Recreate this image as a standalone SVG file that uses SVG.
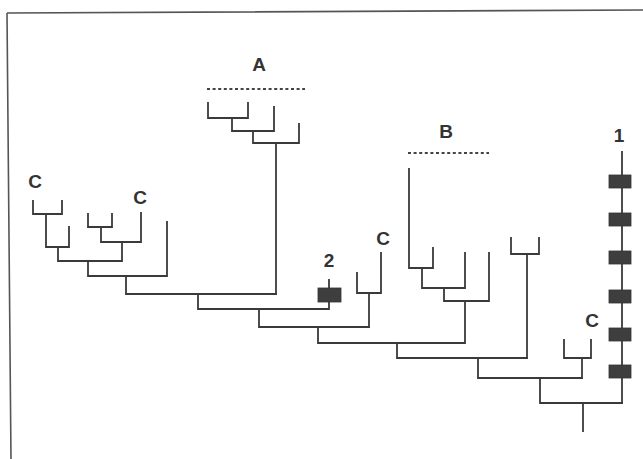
<svg xmlns="http://www.w3.org/2000/svg" width="643" height="459" viewBox="0 0 643 459">
<style>
.ln{fill:none;stroke:#3a3a3a;stroke-width:1.8;stroke-linecap:square}
.dot{fill:none;stroke:#444;stroke-width:2;stroke-dasharray:3 2.6}
.lbl{font-family:"Liberation Sans",Arial,sans-serif;font-size:19px;font-weight:bold;fill:#333;text-anchor:middle}
.blk{fill:#3e3e3e;stroke:#333;stroke-width:0.8}
.frame{fill:none;stroke:#555;stroke-width:1.6}
</style>
<rect width="643" height="459" fill="#fff"/>
<g id="frame">
<path class="frame" d="M7,13 L643,10 M7,13 L11,459"/>
</g>
<g id="connectors">
<!-- left C clade -->
<path class="ln" d="M33,201 V214 H62 V201"/>
<path class="ln" d="M46,214 V247 H69 V227"/>
<path class="ln" d="M88,214 V227 H112 V214"/>
<path class="ln" d="M101,227 V242 H141 V213"/>
<path class="ln" d="M58,247 V261 H122 V242"/>
<path class="ln" d="M88,261 V276 H167 V222"/>
<path class="ln" d="M126,276 V294 H276"/>
<!-- A clade -->
<path class="ln" d="M208,103 V118 H248 V103"/>
<path class="ln" d="M232,118 V131 H274 V107"/>
<path class="ln" d="M253,131 V143 H299 V124"/>
<path class="ln" d="M276,143 V294"/>
<!-- spine -->
<path class="ln" d="M198,294 V309 H329 V280"/>
<path class="ln" d="M259,309 V327 H369"/>
<path class="ln" d="M357,273 V293 H381 V253"/>
<path class="ln" d="M369,293 V327"/>
<path class="ln" d="M318,327 V343 H465 V301"/>
<!-- B clade -->
<path class="ln" d="M409,169 V268 H433 V248"/>
<path class="ln" d="M422,268 V288 H465 V253"/>
<path class="ln" d="M444,288 V301 H489 V253"/>
<path class="ln" d="M397,343 V358 H527"/>
<path class="ln" d="M511,238 V254 H539 V238"/>
<path class="ln" d="M527,254 V358"/>
<path class="ln" d="M478,358 V378 H582"/>
<path class="ln" d="M564,340 V358 H591 V340"/>
<path class="ln" d="M582,358 V378"/>
<path class="ln" d="M540,378 V403 H622"/>
<path class="ln" d="M622,403 V152"/>
<path class="ln" d="M583,403 V431"/>
</g>
<g id="groups">
<path class="dot" d="M207,89 H305"/>
<path class="dot" d="M408,153 H489"/>
</g>
<g id="markers">
<rect class="blk" x="318" y="288" width="23" height="14"/>
<rect class="blk" x="609" y="175" width="22" height="13"/>
<rect class="blk" x="609" y="213" width="22" height="13"/>
<rect class="blk" x="609" y="251" width="22" height="13"/>
<rect class="blk" x="609" y="290" width="22" height="13"/>
<rect class="blk" x="609" y="328" width="22" height="13"/>
<rect class="blk" x="609" y="365" width="22" height="13"/>
</g>
<g id="labels">
<text class="lbl" x="259" y="71">A</text>
<text class="lbl" x="446" y="138">B</text>
<text class="lbl" x="619" y="142">1</text>
<text class="lbl" x="329" y="267">2</text>
<text class="lbl" x="35" y="188">C</text>
<text class="lbl" x="140" y="204">C</text>
<text class="lbl" x="383" y="245">C</text>
<text class="lbl" x="592" y="327">C</text>
</g>
</svg>
